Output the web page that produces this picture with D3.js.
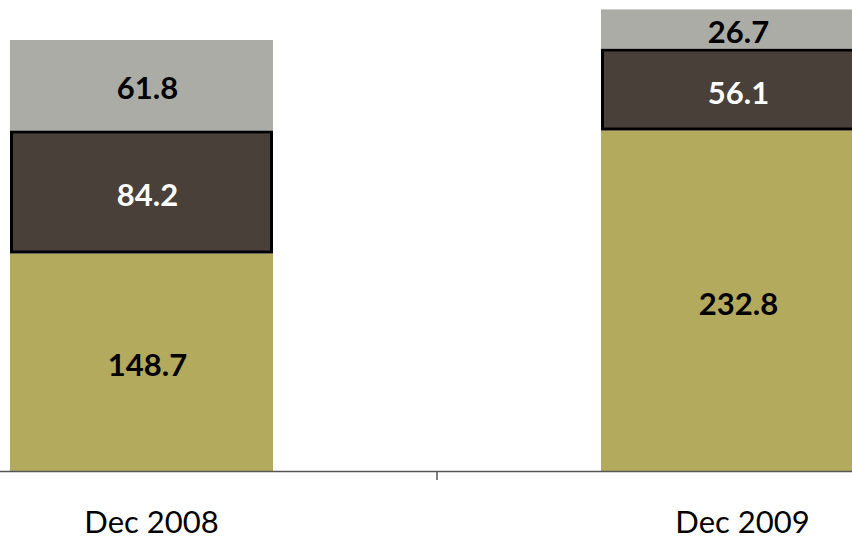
<!DOCTYPE html>
<html><head><meta charset="utf-8">
<script src="https://cdn.jsdelivr.net/npm/d3@7"></script>
<style>html,body{margin:0;padding:0;background:#fff;overflow:hidden}</style>
</head><body>
<svg id="chart" width="852" height="540"></svg>
<script>
const categories = ["Dec 2008", "Dec 2009"];
const seriesNames = ["bottom", "middle", "top"];
const bottomValues = [148.7, 232.8];
const middleValues = [84.2, 56.1];
const topValues = [61.8, 26.7];
const colors = {bottom: "#B3AA5E", middle: "#4A403A", top: "#ABACA6"};
const labelColors = {bottom: "#000", middle: "#fff", top: "#000"};

const rows = categories.map((c, i) => ({cat: c, bottom: bottomValues[i], middle: middleValues[i], top: topValues[i]}));
const stack = d3.stack().keys(seriesNames)(rows);

const svg = d3.select("#chart");
const W = 852, H = 540;
const baseY = 471;

const x = d3.scaleBand().domain(categories).range([-154, 1028]).paddingInner(0.555).paddingOuter(0.2775);
const y = d3.scaleLinear().domain([0, 320]).range([baseY, 3]);

const g = svg.append("g");
stack.forEach(layer => {
  const key = layer.key;
  const sel = g.selectAll(null).data(layer).enter();
  if (key === "middle") {
    sel.append("rect")
      .attr("x", d => x(d.data.cat) + 1.5)
      .attr("y", d => y(d[1]) + 1.5)
      .attr("width", x.bandwidth() - 3)
      .attr("height", d => y(d[0]) - y(d[1]) - 3)
      .attr("fill", colors[key])
      .attr("stroke", "#000")
      .attr("stroke-width", 3);
  } else {
    sel.append("rect")
      .attr("x", d => x(d.data.cat))
      .attr("y", d => y(d[1]))
      .attr("width", x.bandwidth())
      .attr("height", d => y(d[0]) - y(d[1]))
      .attr("fill", colors[key]);
  }
  sel.append("text")
    .attr("x", d => x(d.data.cat) + x.bandwidth() / 2 + 6)
    .attr("y", d => (y(d[0]) + y(d[1])) / 2 + 2)
    .attr("text-anchor", "middle")
    .attr("dominant-baseline", "central")
    .attr("font-family", "Lato, sans-serif")
    .attr("font-weight", "bold")
    .attr("font-size", 31)
    .attr("fill", labelColors[key])
    .text(d => (d[1] - d[0]).toFixed(1));
});

// axis
const axis = d3.axisBottom(x).tickSize(0).tickPadding(40);
const ax = svg.append("g").attr("transform", `translate(0,${baseY})`).call(axis);
ax.select(".domain").attr("stroke", "#555").attr("stroke-width", 1.5);
ax.selectAll(".tick text")
  .attr("font-family", "Lato, sans-serif")
  .attr("font-size", 31)
  .attr("fill", "#000")
  .attr("dx", 10);
// boundary tick between categories
const boundary = x(categories[1]) - x.step() * x.paddingInner() / 2;
ax.append("line").attr("x1", boundary).attr("x2", boundary).attr("y1", 0).attr("y2", 9)
  .attr("stroke", "#555").attr("stroke-width", 1.5);
</script>
</body></html>
